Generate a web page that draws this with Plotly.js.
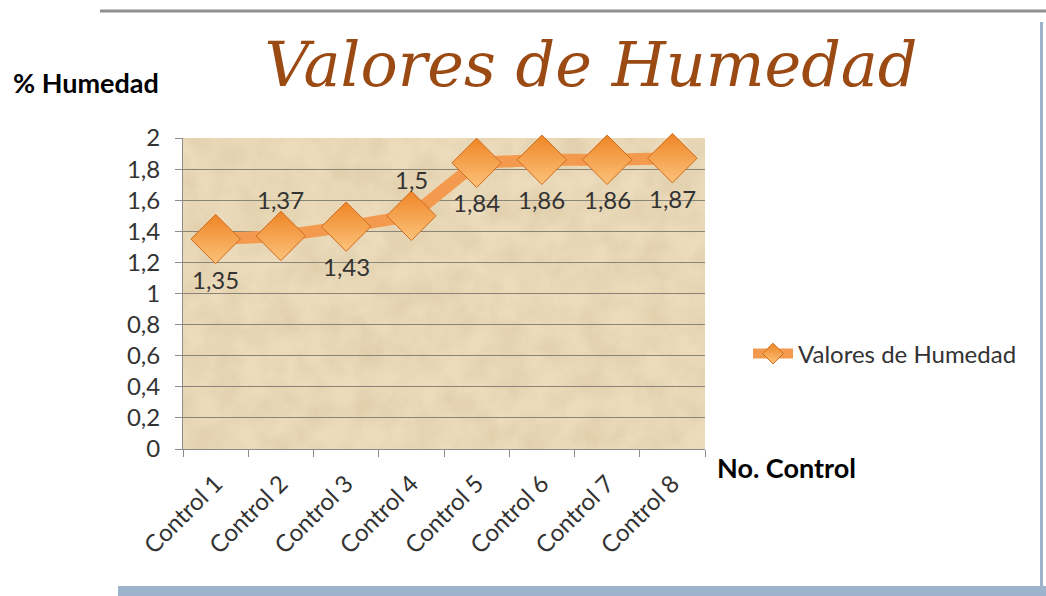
<!DOCTYPE html>
<html>
<head>
<meta charset="utf-8">
<script src="https://cdn.plot.ly/plotly-3.0.1.min.js"></script>
<style>
  html, body { margin: 0; padding: 0; background: #ffffff; }
  #chart { width: 1046px; height: 596px; }
</style>
</head>
<body>
<div id="chart"></div>
<script>
// ---- data ----
const categories = ["Control 1", "Control 2", "Control 3", "Control 4", "Control 5", "Control 6", "Control 7", "Control 8"];
const humedad = [1.35, 1.37, 1.43, 1.5, 1.84, 1.86, 1.86, 1.87];
const labelSides = ["below", "above", "below", "above", "below", "below", "below", "below"];
const yTickValues = [0, 0.2, 0.4, 0.6, 0.8, 1, 1.2, 1.4, 1.6, 1.8, 2];
const yTickLabels = yTickValues.map(v => String(v).replace('.', ','));
const seriesName = "Valores de Humedad";
const chartTitle = "Valores de Humedad";
const yTitle = "% Humedad";
const xTitle = "No. Control";

// ---- layout geometry (pixels) ----
const W = 1046, H = 596;
const L = 183, R = 705, T = 138, B = 449;
const px = x => (x - L) / (R - L);
const py = y => (B - y) / (B - T);

const fontFam = "Lato, 'Open Sans', 'Noto Sans', sans-serif";
const fmt = v => String(v).replace('.', ',');

// parchment texture for plot area
const texSvg = `<svg xmlns='http://www.w3.org/2000/svg' width='522' height='311'>
<filter id='n'><feTurbulence type='fractalNoise' baseFrequency='0.035' numOctaves='4' seed='7'/>
<feColorMatrix type='matrix' values='0 0 0 0 0.55  0 0 0 0 0.42  0 0 0 0 0.22  0 0 0 0.9 -0.25'/></filter>
<rect width='522' height='311' fill='#ecdcbc'/>
<rect width='522' height='311' filter='url(#n)' opacity='0.5'/>
</svg>`;
const texUrl = 'data:image/svg+xml;base64,' + btoa(texSvg);

const trace = {
  type: 'scatter',
  mode: 'lines+markers',
  x: categories,
  y: humedad,
  name: seriesName,
  line: { color: '#f39a4e', width: 12 },
  marker: {
    symbol: 'diamond',
    size: 38,
    color: '#ee8526',
    gradient: { type: 'vertical', color: '#fcc27a' },
    line: { color: '#d06a1c', width: 1 }
  },
  cliponaxis: false,
  hoverinfo: 'x+y'
};

const dataLabels = categories.map((c, i) => ({
  x: c, y: humedad[i], xref: 'x', yref: 'y',
  text: fmt(humedad[i]), showarrow: false,
  yshift: labelSides[i] === 'above' ? 36 : -40,
  font: { family: fontFam, size: 24, color: '#333333' }
}));

const layout = {
  width: W, height: H,
  margin: { l: L, r: W - R, t: T, b: H - B, pad: 0 },
  paper_bgcolor: '#ffffff',
  plot_bgcolor: '#e6d4b0',
  separators: ',.',
  showlegend: true,
  legend: {
    x: px(748), y: py(354), xanchor: 'left', yanchor: 'middle',
    font: { family: fontFam, size: 24, color: '#333333' },
    bgcolor: 'rgba(0,0,0,0)',
    itemwidth: 40
  },
  title: {
    text: chartTitle,
    font: { family: "'DejaVu Serif', serif", size: 62, color: '#9a4a12', style: 'italic' },
    x: 591 / W, xanchor: 'center',
    y: 1 - 64 / H, yanchor: 'middle'
  },
  xaxis: {
    type: 'category',
    range: [-0.5, categories.length - 0.5],
    tickson: 'boundaries',
    ticks: 'outside', ticklen: 7, tickcolor: '#8c8c8c',
    tickangle: -45,
    ticklabelstandoff: 10,
    tickfont: { family: fontFam, size: 24, color: '#333333' },
    showline: true, linecolor: '#8c8c8c', linewidth: 1,
    showgrid: false, zeroline: false,
    fixedrange: true
  },
  yaxis: {
    range: [0, 2],
    tickvals: yTickValues,
    ticktext: yTickLabels,
    ticks: 'outside', ticklen: 7, tickcolor: '#8c8c8c',
    ticklabelstandoff: 10,
    tickfont: { family: fontFam, size: 24, color: '#333333' },
    showline: true, linecolor: '#8c8c8c', linewidth: 1,
    showgrid: true, gridcolor: '#8a8478', gridwidth: 1,
    zeroline: false,
    fixedrange: true
  },
  images: [{
    source: texUrl, xref: 'paper', yref: 'paper',
    x: 0, y: 1, sizex: 1, sizey: 1, xanchor: 'left', yanchor: 'top',
    sizing: 'stretch', layer: 'below'
  }],
  annotations: dataLabels.concat([
    { text: '<b>' + yTitle + '</b>', xref: 'paper', yref: 'paper',
      x: px(11), y: py(82), xanchor: 'left', yanchor: 'middle', showarrow: false,
      font: { family: fontFam, size: 27, color: '#000000' } },
    { text: '<b>' + xTitle + '</b>', xref: 'paper', yref: 'paper',
      x: px(715), y: py(467), xanchor: 'left', yanchor: 'middle', showarrow: false,
      font: { family: fontFam, size: 27, color: '#000000' } }
  ]),
  shapes: [
    { type: 'line', xref: 'paper', yref: 'paper', x0: px(100), x1: px(1046), y0: py(11), y1: py(11),
      line: { color: '#8f8f8f', width: 3 } },
    { type: 'line', xref: 'paper', yref: 'paper', x0: px(1041.5), x1: px(1041.5), y0: py(22), y1: py(596),
      line: { color: '#9db2cb', width: 3 } },
    { type: 'rect', xref: 'paper', yref: 'paper', x0: px(118), x1: px(1046), y0: py(586), y1: py(596),
      fillcolor: '#9db2cb', line: { width: 0 } }
  ]
};

Plotly.newPlot('chart', [trace], layout, { displayModeBar: false, staticPlot: true });
</script>
</body>
</html>
